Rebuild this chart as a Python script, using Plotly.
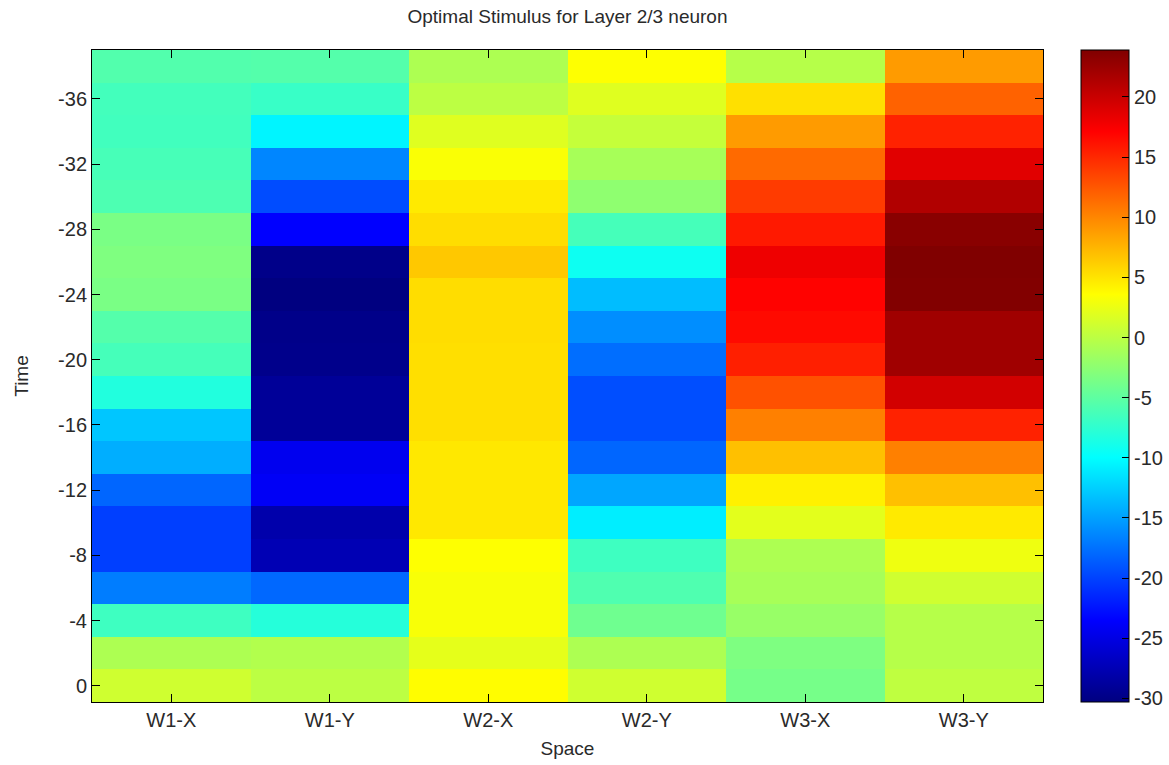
import plotly.graph_objects as go

# Stimulus channels (columns) and time lags (rows, top to bottom)
space = ["W1-X", "W1-Y", "W2-X", "W2-Y", "W3-X", "W3-Y"]
time = [-38, -36, -34, -32, -30, -28, -26, -24, -22, -20,
        -18, -16, -14, -12, -10, -8, -6, -4, -2, 0]

# Stimulus amplitude per channel, listed from time -38 down to 0
w1_x = [-5.6, -6.4, -6.5, -6.2, -5.9, -3.5, -3.2, -3.5, -5.5, -6.3,
        -8.2, -13.0, -14.3, -18.1, -20.2, -20.2, -16.9, -6.7, -0.8, 1.0]
w1_y = [-5.5, -7.0, -10.5, -16.4, -19.5, -23.5, -29.8, -30.3, -29.8, -29.7,
        -29.0, -29.0, -24.4, -24.0, -28.0, -27.5, -18.0, -8.0, -0.5, 0.0]
w2_x = [-0.8, 0.0, 1.9, 3.3, 4.7, 5.4, 6.5, 5.4, 5.4, 5.3,
        5.3, 5.3, 4.8, 4.8, 4.8, 3.5, 3.2, 3.2, 2.2, 3.7]
w2_y = [3.5, 1.9, 0.5, -1.1, -2.4, -6.3, -9.3, -13.5, -16.0, -17.7,
        -19.4, -19.4, -18.1, -14.7, -10.9, -6.7, -5.8, -4.1, -0.8, 1.0]
w3_x = [-0.3, 5.2, 8.9, 11.5, 14.0, 15.8, 18.0, 17.0, 16.6, 15.5,
        12.8, 10.3, 6.9, 4.3, 2.1, -0.8, -1.1, -1.9, -3.3, -3.7]
w3_y = [8.9, 11.9, 15.3, 18.7, 21.3, 23.4, 23.9, 23.8, 22.2, 22.2,
        19.5, 15.3, 10.3, 6.9, 4.7, 2.7, 1.0, -0.3, -0.3, 0.2]

cbar_ticks = [-30, -25, -20, -15, -10, -5, 0, 5, 10, 15, 20]
time_ticks = [-36, -32, -28, -24, -20, -16, -12, -8, -4, 0]

columns = [w1_x, w1_y, w2_x, w2_y, w3_x, w3_y]
z = [list(row) for row in zip(*columns)]

jet = [
    [0.0, "rgb(0,0,128)"],
    [0.125, "rgb(0,0,255)"],
    [0.375, "rgb(0,255,255)"],
    [0.625, "rgb(255,255,0)"],
    [0.875, "rgb(255,0,0)"],
    [1.0, "rgb(128,0,0)"],
]

FONT = "Liberation Sans, Arial, sans-serif"
TXT = "#2a2a2a"


def hyphen_labels(values):
    # plain ASCII hyphen for negative numbers
    return [str(v) for v in values]


fig = go.Figure(
    go.Heatmap(
        x=space,
        y=time,
        z=z,
        colorscale=jet,
        showscale=True,
        colorbar=dict(
            x=1.0396,
            xanchor="left",
            xpad=0,
            y=0.5,
            yanchor="middle",
            ypad=0,
            len=1.0,
            lenmode="fraction",
            thickness=48,
            thicknessmode="pixels",
            outlinewidth=1,
            outlinecolor="black",
            tickmode="array",
            tickvals=cbar_ticks,
            ticktext=hyphen_labels(cbar_ticks),
            ticks="inside",
            ticklen=7,
            tickcolor="black",
            tickfont=dict(family=FONT, size=20, color=TXT),
        ),
    )
)

axis_common = dict(
    showline=True,
    linecolor="black",
    linewidth=1,
    mirror="ticks",
    ticks="inside",
    ticklen=8,
    tickcolor="black",
    showgrid=False,
    zeroline=False,
    tickfont=dict(family=FONT, size=20, color=TXT),
)

fig.update_layout(
    width=1169,
    height=765,
    margin=dict(l=92, r=126, t=50, b=63, autoexpand=False),
    paper_bgcolor="white",
    plot_bgcolor="white",
    title=dict(
        text="Optimal Stimulus for Layer 2/3 neuron",
        x=(92 + 1043) / 2 / 1169,
        xanchor="center",
        y=1 - 16 / 765,
        yanchor="middle",
        font=dict(family=FONT, size=19, color=TXT),
    ),
    xaxis=dict(
        **axis_common,
        range=[-0.5, 5.5],
        title=dict(text="Space", standoff=11,
                   font=dict(family=FONT, size=19, color=TXT)),
    ),
    yaxis=dict(
        **axis_common,
        range=[1, -39],
        tickmode="array",
        tickvals=time_ticks,
        ticktext=hyphen_labels(time_ticks),
        title=dict(text="Time", standoff=24,
                   font=dict(family=FONT, size=19, color=TXT)),
    ),
)

fig.write_html("out.html")
